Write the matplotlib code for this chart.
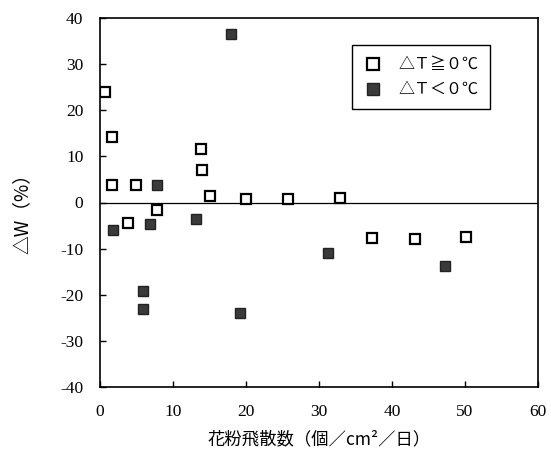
import matplotlib.pyplot as plt

plt.rcParams['font.family'] = ['Liberation Serif', 'Noto Sans CJK JP', 'DejaVu Sans']
plt.rcParams['axes.unicode_minus'] = False

# ΔT >= 0 (open squares)
x_pos = [0.7, 1.7, 1.7, 4.9, 13.9, 14.0, 15.0, 20.0, 25.8, 32.9, 7.85, 3.9, 37.3, 43.2, 50.2]
y_pos = [24.0, 14.2, 3.8, 3.9, 11.5, 7.0, 1.4, 0.8, 0.8, 0.9, -1.6, -4.4, -7.8, -7.9, -7.4]

# ΔT < 0 (filled squares)
x_neg = [17.9, 7.85, 1.8, 6.9, 13.1, 5.9, 5.9, 19.2, 31.2, 47.2]
y_neg = [36.5, 3.9, -6.0, -4.7, -3.6, -19.1, -23.0, -23.9, -11.0, -13.8]

xticks = [0, 10, 20, 30, 40, 50, 60]
yticks = [-40, -30, -20, -10, 0, 10, 20, 30, 40]

fig = plt.figure(figsize=(5.51, 4.57), dpi=100)
ax = fig.add_axes([100 / 551, 1 - 387 / 457, 438 / 551, 369 / 457])

ax.axhline(0, color='black', linewidth=0.9, zorder=1)
ax.plot(x_pos, y_pos, linestyle='none', marker='s', markersize=7,
        markerfacecolor='white', markeredgecolor='black', markeredgewidth=1.6,
        label='△Ｔ≧０℃', zorder=3)
ax.plot(x_neg, y_neg, linestyle='none', marker='s', markersize=7,
        markerfacecolor='#3a3a3a', markeredgecolor='#222222', markeredgewidth=1.0,
        label='△Ｔ＜０℃', zorder=3)

ax.set_xlim(0, 60)
ax.set_ylim(-40, 40)
ax.set_xticks(xticks)
ax.set_yticks(yticks)
ax.tick_params(direction='in', length=4, width=1, labelsize=12.5)
ax.tick_params(axis='x', pad=12)
ax.tick_params(axis='y', pad=12)
for s in ax.spines.values():
    s.set_linewidth(1.2)

ax.set_xlabel('花粉飛散数（個／cm²／日）', family=['Noto Sans CJK JP', 'DejaVu Sans'],
              fontsize=12.5, labelpad=8)
fig.text(22 / 551, 1 - 209 / 457, '△W（%）', rotation=90, ha='center', va='center',
         family=['Noto Sans CJK JP', 'DejaVu Sans'], fontsize=13.5)

leg = ax.legend(loc='upper left', bbox_to_anchor=(352 / 551, 1 - 45 / 457),
                bbox_transform=fig.transFigure, borderaxespad=0,
                fancybox=False, framealpha=1, edgecolor='black',
                handlelength=1.2, handletextpad=1.0, borderpad=0.7, labelspacing=0.5,
                markerscale=1.2,
                prop={'family': ['Noto Sans CJK JP', 'DejaVu Sans'], 'size': 11.5})
leg.get_frame().set_linewidth(1.0)

fig.savefig('out.png', dpi=100)
